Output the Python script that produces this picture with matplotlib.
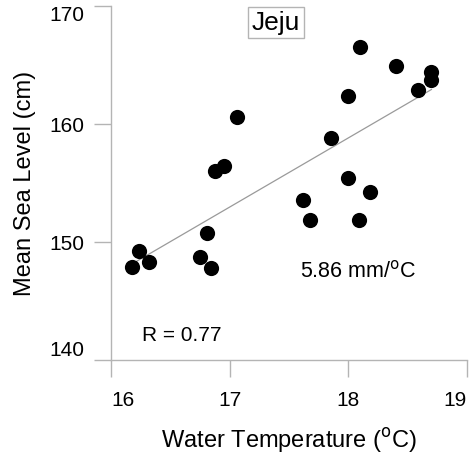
import numpy as np
import matplotlib.pyplot as plt

plt.rcParams['font.family'] = ['Liberation Sans', 'DejaVu Sans']

# Jeju: summer water temperature vs. mean sea level
water_temp = [16.18, 16.24, 16.32, 16.75, 16.81, 16.84, 16.88, 16.95, 17.06,
              18.10, 18.40, 18.70, 18.70, 18.59, 18.00, 17.85, 18.00, 18.18,
              17.62, 17.68, 18.09]
sea_level = [147.9, 149.2, 148.3, 148.7, 150.8, 147.8, 156.0, 156.4, 160.6,
             166.5, 164.9, 164.4, 163.7, 162.9, 162.4, 158.8, 155.4, 154.2,
             153.6, 151.9, 151.9]
x_ticks = [16, 17, 18, 19]
y_ticks = [140, 150, 160, 170]
slope = 5.86
r_value = 0.77

x = np.array(water_temp)
y = np.array(sea_level)
intercept = y.mean() - slope * x.mean()

grey = '#b4b4b4'

fig = plt.figure(figsize=(4.75, 4.54), dpi=100)
ax = fig.add_axes([0.2337, 0.2070, 0.7495, 0.7798])

xl = np.array([x.min(), x.max()])
ax.plot(xl, intercept + slope * xl, color='#9a9a9a', lw=0.9, zorder=1)
ax.scatter(x, y, s=120, color='black', zorder=2, linewidths=0)

ax.set_xlim(x_ticks[0], x_ticks[-1])
ax.set_ylim(y_ticks[0], y_ticks[-1])
ax.set_xticks(x_ticks)
ax.set_yticks(y_ticks)

for side in ['top', 'right']:
    ax.spines[side].set_visible(False)
for side in ['left', 'bottom']:
    ax.spines[side].set_color(grey)
    ax.spines[side].set_linewidth(1.0)

ax.tick_params(axis='both', direction='out', length=12, width=1.0,
               color=grey, labelsize=15)
ax.tick_params(axis='x', pad=10)
ax.tick_params(axis='y', pad=7)

# keep the end labels inside the frame
xlabels = ax.get_xticklabels()
xlabels[0].set_ha('left')
xlabels[-1].set_ha('right')
ylabels = ax.get_yticklabels()
ylabels[0].set_va('bottom')
ylabels[-1].set_va('top')

ax.set_xlabel('Water Temperature ($^{\\mathrm{o}}$C)', fontsize=17, labelpad=12)
ax.set_ylabel('Mean Sea Level (cm)', fontsize=17, labelpad=10)

ax.text(17.39, 168.6, 'Jeju', fontsize=19, ha='center', va='center',
        bbox=dict(boxstyle='square,pad=0.15', fc='white', ec=grey, lw=1.0))
ax.text(16.26, 142.1, 'R = %.2f' % r_value, fontsize=15, ha='left', va='center')
ax.text(17.59, 147.5, '%.2f mm/$^{\\mathrm{o}}$C' % slope, fontsize=15.5,
        ha='left', va='center')

fig.savefig('out.png', dpi=100)
